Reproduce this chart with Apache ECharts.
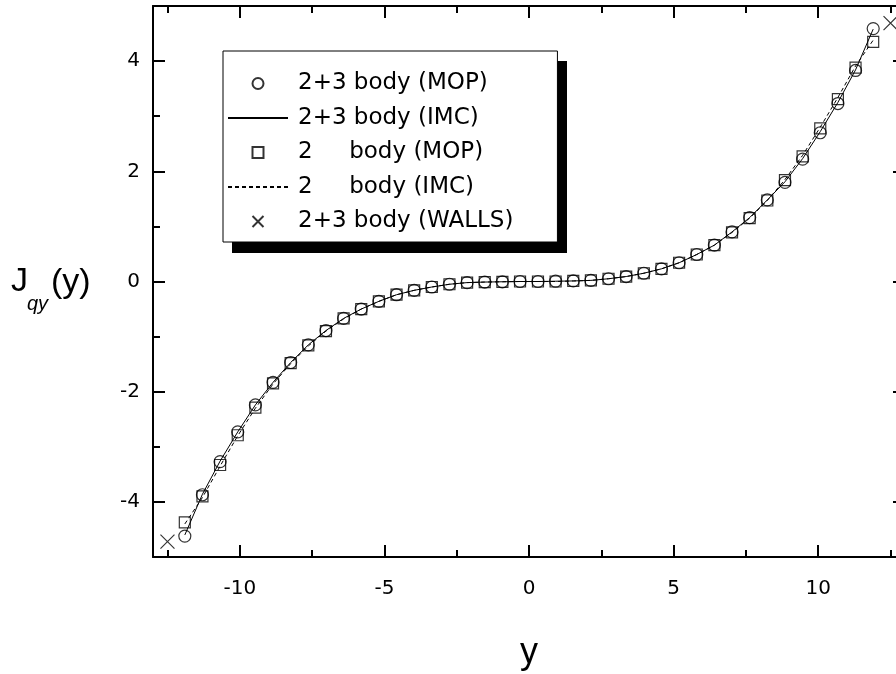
<!DOCTYPE html>
<html><head><meta charset="utf-8">
<script src="https://cdn.jsdelivr.net/npm/echarts@6/dist/echarts.min.js"></script>
<style>html,body{margin:0;padding:0;background:#fff}#c{width:896px;height:674px}</style>
</head><body><div id="c"></div>
<script>
// y positions (x axis values) of sampled points
const yPos = [-11.9, -11.29, -10.68, -10.07, -9.46, -8.85, -8.24, -7.63, -7.02, -6.41,
  -5.8, -5.19, -4.58, -3.97, -3.36, -2.75, -2.14, -1.53, -0.92, -0.31,
  0.31, 0.92, 1.53, 2.14, 2.75, 3.36, 3.97, 4.58, 5.19, 5.8,
  6.41, 7.02, 7.63, 8.24, 8.85, 9.46, 10.07, 10.68, 11.29, 11.9];
// 2+3 body (MOP) – circles
const mop23 = [-4.62, -3.87, -3.27, -2.73, -2.24, -1.83, -1.47, -1.15, -0.89, -0.67,
  -0.50, -0.36, -0.24, -0.16, -0.10, -0.05, -0.02, -0.01, -0.005, 0.0,
  0.0, 0.005, 0.01, 0.02, 0.05, 0.09, 0.15, 0.23, 0.34, 0.49,
  0.66, 0.90, 1.16, 1.48, 1.80, 2.22, 2.70, 3.23, 3.83, 4.59];
// 2+3 body (IMC) – solid line
const imc23 = [-4.60, -3.86, -3.26, -2.73, -2.24, -1.83, -1.47, -1.15, -0.89, -0.67,
  -0.50, -0.36, -0.24, -0.16, -0.10, -0.05, -0.02, -0.01, -0.005, 0.0,
  0.0, 0.005, 0.01, 0.02, 0.05, 0.09, 0.15, 0.23, 0.34, 0.49,
  0.66, 0.90, 1.16, 1.48, 1.81, 2.23, 2.72, 3.25, 3.84, 4.58];
// 2 body (MOP) – squares
const mop2 = [-4.37, -3.90, -3.33, -2.79, -2.29, -1.85, -1.48, -1.16, -0.90, -0.67,
  -0.50, -0.36, -0.24, -0.16, -0.10, -0.05, -0.02, -0.01, -0.005, 0.0,
  0.0, 0.0, 0.01, 0.02, 0.05, 0.09, 0.15, 0.23, 0.34, 0.49,
  0.66, 0.89, 1.15, 1.47, 1.84, 2.27, 2.78, 3.31, 3.88, 4.35];
// 2 body (IMC) – dashed line
const imc2 = [-4.40, -3.92, -3.35, -2.80, -2.30, -1.86, -1.49, -1.17, -0.90, -0.68,
  -0.50, -0.36, -0.24, -0.16, -0.10, -0.05, -0.02, -0.01, -0.005, 0.0,
  0.0, 0.0, 0.01, 0.02, 0.05, 0.09, 0.15, 0.23, 0.34, 0.49,
  0.66, 0.89, 1.15, 1.47, 1.85, 2.29, 2.80, 3.34, 3.91, 4.38];
// 2+3 body (WALLS)
const wallX = [-12.5, 12.5];
const wallY = [-4.72, 4.69];

const xMajor = [-10, -5, 0, 5, 10];
const xMinor = [-12.5, -7.5, -2.5, 2.5, 7.5, 12.5];
const yMajor = [-4, -2, 0, 2, 4];
const yMinor = [-3, -1, 1, 3];

const names = ['2+3 body (MOP)', '2+3 body (IMC)', '2     body (MOP)', '2     body (IMC)', '2+3 body (WALLS)'];

const pairs = (xs, ys) => xs.map((x, i) => [x, ys[i]]);
const BLACK = '#000';
const CLEAR = 'rgba(0,0,0,0)';
function ax(pos, min, max, major, ticks, extra) {
  return Object.assign({
    type: 'value', position: pos, min: min, max: max,
    splitLine: { show: false },
    axisLine: { show: major, onZero: false, lineStyle: { color: BLACK, width: 2 } },
    axisLabel: { show: false },
    axisTick: { show: true, inside: true, length: major ? 12 : 7, customValues: ticks, lineStyle: { color: BLACK, width: 2 } }
  }, extra || {});
}
const labelStyle = { fontFamily: 'DejaVu Sans', fontSize: 20, color: BLACK };

const chart = echarts.init(document.getElementById('c'));
chart.setOption({
  animation: false,
  backgroundColor: '#fff',
  grid: { left: 153, top: 6, width: 752, height: 551, containLabel: false, outerBoundsMode: 'none' },
  xAxis: [
    ax('bottom', -13, 13, true, xMajor, {
      axisLabel: Object.assign({ show: true, margin: 22, customValues: xMajor }, labelStyle),
      name: 'y', nameLocation: 'middle', nameGap: 78,
      nameTextStyle: { fontFamily: 'Liberation Sans', fontSize: 36, color: BLACK }
    }),
    ax('bottom', -13, 13, false, xMinor),
    ax('top', -13, 13, true, xMajor),
    ax('top', -13, 13, false, xMinor)
  ],
  yAxis: [
    ax('left', -5, 5, true, yMajor, {
      axisLabel: Object.assign({ show: true, margin: 13, customValues: yMajor }, labelStyle)
    }),
    ax('left', -5, 5, false, yMinor),
    ax('right', -5, 5, true, yMajor),
    ax('right', -5, 5, false, yMinor)
  ],
  legend: {
    orient: 'vertical', left: 223, top: 51, z: 10,
    itemWidth: 60, itemHeight: 11, itemGap: 11.5,
    padding: [21, 44, 9, 4],
    backgroundColor: '#fff', borderColor: BLACK, borderWidth: 1,
    selectedMode: false, symbolKeepAspect: true,
    textStyle: { fontFamily: 'DejaVu Sans', fontSize: 23, color: BLACK, padding: [0, 0, 0, 5] },
    data: [
      { name: names[0] },
      { name: names[1] },
      { name: names[2], icon: 'path://M0,0H10V10H0Z' },
      { name: names[3] },
      { name: names[4] }
    ]
  },
  graphic: [
    { type: 'rect', z: 5, shape: { x: 232, y: 61, width: 335, height: 192 }, style: { fill: BLACK } },
    { type: 'text', left: 11, top: 265, style: { text: 'J', font: '34px "Liberation Sans"', fill: BLACK } },
    { type: 'text', left: 27, top: 294, style: { text: 'qy', font: 'italic 20px "Liberation Sans"', fill: BLACK } },
    { type: 'text', left: 51, top: 266, style: { text: '(y)', font: '34px "Liberation Sans"', fill: BLACK } }
  ],
  series: [
    { name: names[0], type: 'scatter', data: pairs(yPos, mop23), symbol: 'circle', symbolSize: 12,
      itemStyle: { color: CLEAR, borderColor: BLACK, borderWidth: 1.2 }, z: 3 },
    { name: names[1], type: 'line', data: pairs(yPos, imc23), symbol: 'none', showSymbol: false,
      lineStyle: { color: BLACK, width: 1 }, itemStyle: { color: CLEAR, borderWidth: 0 } },
    { name: names[2], type: 'scatter', data: pairs(yPos, mop2), symbol: 'rect', symbolSize: 11,
      itemStyle: { color: CLEAR, borderColor: BLACK, borderWidth: 1.2 }, z: 3 },
    { name: names[3], type: 'line', data: pairs(yPos, imc2), symbol: 'none', showSymbol: false,
      lineStyle: { color: BLACK, width: 1, type: [4, 3] }, itemStyle: { color: CLEAR, borderWidth: 0 } },
    { name: names[4], type: 'scatter', data: pairs(wallX, wallY), symbol: 'path://M0,0L10,10M10,0L0,10', symbolSize: 14,
      itemStyle: { color: CLEAR, borderColor: BLACK, borderWidth: 1.2 }, z: 3 }
  ]
});
</script></body></html>
